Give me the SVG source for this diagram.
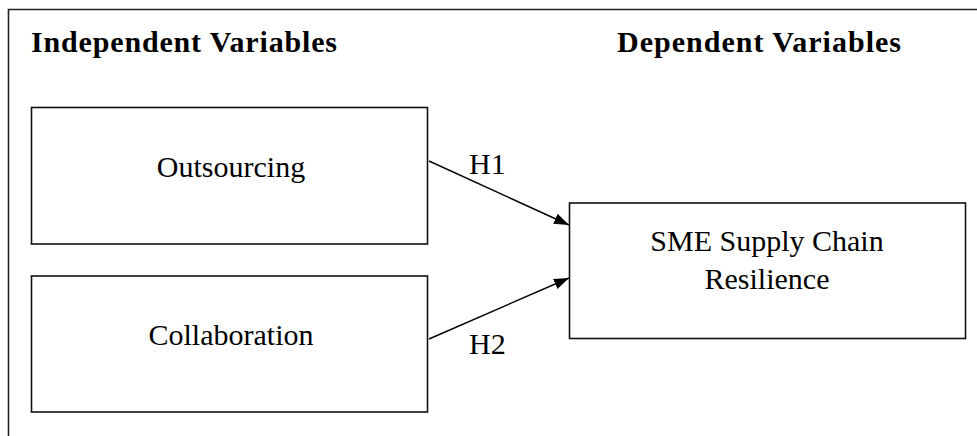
<svg xmlns="http://www.w3.org/2000/svg" width="977" height="436" viewBox="0 0 977 436">
  <style>
    .frame { fill: none; stroke: #222; stroke-width: 1.6; }
    .box { fill: #fff; stroke: #111; stroke-width: 1.6; }
    .head { font-family: "Liberation Serif", "Times New Roman", serif; font-weight: bold; font-size: 30px; fill: #000; }
    .lbl { font-family: "Liberation Serif", "Times New Roman", serif; font-size: 30px; fill: #000; }
    .conn { stroke: #000; stroke-width: 1.4; fill: none; marker-end: url(#arrow); }
  </style>
  <defs>
    <marker id="arrow" viewBox="0 0 15 11" refX="15" refY="5.5" markerWidth="15" markerHeight="11" markerUnits="userSpaceOnUse" orient="auto">
      <path d="M0,0 L15,5.5 L0,11 Z" fill="#000"/>
    </marker>
  </defs>
  <rect width="977" height="436" fill="#fff"/>
  <path class="frame" d="M8.5,436 L8.5,9.5 L977,9.5"/>
  <text class="head" x="31" y="52" textLength="306">Independent Variables</text>
  <text class="head" x="617" y="52" textLength="284">Dependent Variables</text>
  <g id="outsourcing">
    <rect class="box" x="31.5" y="107.5" width="396" height="136.5"/>
    <text class="lbl" x="231" y="177" text-anchor="middle">Outsourcing</text>
  </g>
  <g id="collaboration">
    <rect class="box" x="31.5" y="276" width="396" height="136"/>
    <text class="lbl" x="231" y="345" text-anchor="middle">Collaboration</text>
  </g>
  <g id="sme">
    <rect class="box" x="569.5" y="203" width="396" height="135.5"/>
    <text class="lbl" x="767" y="251" text-anchor="middle">SME Supply Chain</text>
    <text class="lbl" x="767" y="289" text-anchor="middle">Resilience</text>
  </g>
  <g id="connectors">
    <line class="conn" x1="429" y1="161" x2="569" y2="225"/>
    <line class="conn" x1="429" y1="339" x2="569" y2="278"/>
    <text class="lbl" x="469" y="174">H1</text>
    <text class="lbl" x="469" y="354">H2</text>
  </g>
</svg>
